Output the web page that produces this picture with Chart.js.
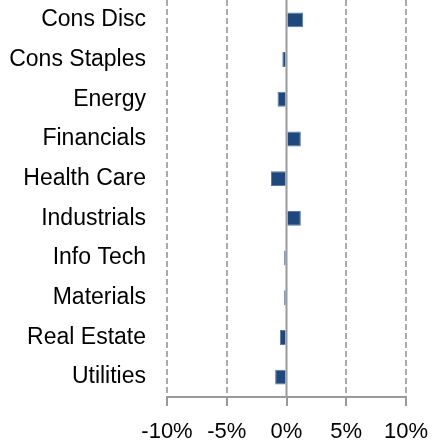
<!DOCTYPE html>
<html>
<head>
<meta charset="utf-8">
<script src="https://cdn.jsdelivr.net/npm/chart.js@4/dist/chart.umd.min.js"></script>
<style>
  html, body { margin: 0; padding: 0; background: #fff; }
  #wrap { width: 434px; height: 442px; }
  canvas { display: block; }
</style>
</head>
<body>
<div id="wrap"><canvas id="sectorChart" width="434" height="442"></canvas></div>
<script>
// Sector data (percent)
const sectors = ['Cons Disc', 'Cons Staples', 'Energy', 'Financials', 'Health Care',
                 'Industrials', 'Info Tech', 'Materials', 'Real Estate', 'Utilities'];
const values = [1.4, -0.35, -0.75, 1.2, -1.3, 1.2, -0.2, -0.2, -0.55, -0.95];
const xTicks = [-10, -5, 0, 5, 10];

const gridGray = '#ABABAB';
const axisGray = '#9A9A9A';
const catFont = { family: '"Liberation Sans", Arial, sans-serif', size: 23 };
const tickFont = { family: '"Liberation Sans", Arial, sans-serif', size: 22 };

// solid vertical line at 0, drawn over the dashed grid
const zeroLine = {
    id: 'zeroLine',
    beforeDatasetsDraw(chart) {
        const { ctx, chartArea, scales } = chart;
        const x = scales.x.getPixelForValue(0);
        ctx.save();
        ctx.strokeStyle = axisGray;
        ctx.lineWidth = 2;
        ctx.beginPath();
        ctx.moveTo(x, chartArea.top);
        ctx.lineTo(x, chartArea.bottom);
        ctx.stroke();
        ctx.restore();
    }
};

new Chart(document.getElementById('sectorChart').getContext('2d'), {
    type: 'bar',
    data: {
        labels: sectors,
        datasets: [{
            data: values,
            backgroundColor: '#1F497D',
            borderColor: '#5A7AA5',
            borderWidth: 1,
            barPercentage: 0.375,
            categoryPercentage: 1
        }]
    },
    options: {
        indexAxis: 'y',
        responsive: false,
        animation: false,
        layout: { padding: { top: 0, right: 28, bottom: 0, left: 0 } },
        plugins: { legend: { display: false }, tooltip: { enabled: false } },
        scales: {
            x: {
                min: -10,
                max: 10,
                afterBuildTicks: axis => { axis.ticks = xTicks.map(v => ({ value: v })); },
                afterFit: axis => {
                    axis.height = 45;
                    axis.paddingLeft = 0;
                    axis.paddingRight = 0;
                },
                ticks: {
                    color: '#000',
                    font: tickFont,
                    padding: 13,
                    callback: v => v + '%'
                },
                grid: {
                    color: ctx => ctx.tick && ctx.tick.value === 0 ? 'rgba(0,0,0,0)' : gridGray,
                    lineWidth: 2,
                    tickColor: axisGray,
                    tickLength: 9,
                    tickWidth: 2
                },
                border: { display: true, color: axisGray, width: 2, dash: [6, 3] }
            },
            y: {
                afterFit: axis => {
                    axis.width = 167;
                    axis.paddingTop = 0;
                    axis.paddingBottom = 0;
                },
                ticks: { color: '#000', font: catFont, padding: 21 },
                grid: { display: false, drawTicks: false },
                border: { display: false }
            }
        }
    },
    plugins: [zeroLine]
});
</script>
</body>
</html>
